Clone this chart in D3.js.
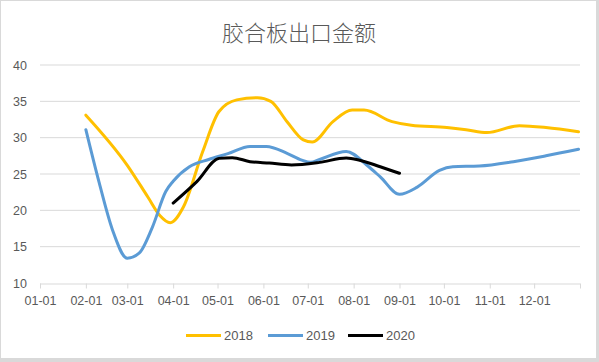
<!DOCTYPE html>
<html>
<head>
<meta charset="utf-8">
<script src="https://cdn.jsdelivr.net/npm/d3@7"></script>
<style>
  body{margin:0;background:#fff;}
  svg{display:block;}
  text{font-family:"Liberation Sans",Arial,sans-serif;fill:#595959;}
</style>
</head>
<body>
<svg id="chart" width="599" height="362"></svg>
<script>
// month tick labels and value ticks
let monthLabels=["01-01","02-01","03-01","04-01","05-01","06-01","07-01","08-01","09-01","10-01","11-01","12-01"];
let yTicks=[10,15,20,25,30,35,40];
let seriesNames=["2018","2019","2020"];
let seriesColors=["#FFC000","#5B9BD5","#000000"];

// values (MM-DD, value)
let dates2018=["02-01","03-01","03-15","03-23","03-30","04-08","04-21","05-02","05-14","05-28","06-06","06-17","06-28","07-04","07-18","07-31","08-08","08-27","09-09","10-03","10-16","10-30","11-21","12-09","12-31"];
let values2018=[33.1,26.2,21.8,19.3,18.3,20.5,28.1,33.6,35.2,35.5,35.0,32.2,29.7,29.4,32.2,33.8,33.8,32.2,31.7,31.4,31.1,30.7,31.65,31.4,30.8];

let dates2019=["02-01","02-10","02-19","03-01","03-09","03-18","03-27","04-01","04-12","04-25","05-08","05-23","06-03","06-17","06-27","07-03","07-09","07-27","08-10","08-19","09-01","09-13","09-28","10-07","10-25","11-17","12-09","12-31"];
let values2019=[31.1,23.8,17.3,13.4,14.1,17.7,22.6,24.0,26.0,27.0,27.8,28.8,28.8,27.85,26.9,26.6,27.0,28.1,26.2,24.6,22.2,23.2,25.5,26.0,26.1,26.7,27.5,28.4];

let dates2020=["04-01","04-17","05-02","05-11","05-23","06-05","06-20","07-09","07-27","08-05","08-19","09-01"];
let values2020=[21.0,23.95,27.15,27.25,26.7,26.5,26.25,26.6,27.2,26.9,26.0,25.1];

const parse=(md)=>d3.timeParse("%Y-%m-%d")("2019-"+md);
const toPoints=(dates,values)=>dates.map((d,i)=>({date:parse(d),value:values[i]}));
let series=[
  toPoints(dates2018,values2018),
  toPoints(dates2019,values2019),
  toPoints(dates2020,values2020)
];

const W=599,H=362;
const svg=d3.select("#chart");

// chart border
svg.append("rect").attr("x",0).attr("y",0).attr("width",W).attr("height",H).attr("fill","#d9d9d9");
svg.append("rect").attr("x",1).attr("y",1).attr("width",595).attr("height",357).attr("fill","#fff");

const start=parse("01-01");
const end=d3.timeParse("%Y-%m-%d")("2020-01-01");
let x=d3.scaleTime().domain([start,end]).range([40,580]);
let y=d3.scaleLinear().domain([10,40]).range([283,65]);

// title
svg.append("text")
  .attr("x",299).attr("y",41)
  .attr("text-anchor","middle")
  .style("font-family","'Noto Sans CJK SC',sans-serif")
  .style("font-size","22px")
  .style("font-weight","300")
  .text("胶合板出口金额");

// grid lines
svg.append("g")
  .selectAll("line")
  .data(yTicks.filter((v)=>v>10))
  .enter()
    .append("line")
    .attr("x1",40).attr("x2",580)
    .attr("y1",(v)=>y(v)).attr("y2",(v)=>y(v))
    .attr("stroke","#d9d9d9").attr("stroke-width",1);

// y axis labels
let yAxis=svg.append("g")
  .attr("transform","translate(40,0)")
  .call(d3.axisLeft(y).tickValues(yTicks).tickSize(0).tickPadding(13));
yAxis.select(".domain").remove();
yAxis.selectAll("text").style("font-size","12.5px").attr("fill","#595959").attr("font-family",null);

// x axis
let tickDates=d3.timeMonth.range(start,d3.timeDay.offset(end,1));
let xAxis=svg.append("g")
  .attr("transform","translate(0,283.5)")
  .call(d3.axisBottom(x)
    .tickValues(tickDates)
    .tickSize(5)
    .tickPadding(8)
    .tickFormat((d,i)=>i<monthLabels.length?monthLabels[i]:""));
xAxis.select(".domain").attr("stroke","#d9d9d9").attr("d","M40,0.5H580");
xAxis.selectAll(".tick line").attr("stroke","#d9d9d9");
xAxis.selectAll("text").style("font-size","12.5px").attr("fill","#595959").attr("font-family",null);

// lines
let line=d3.line()
  .x((p)=>x(p.date))
  .y((p)=>y(p.value))
  .curve(d3.curveMonotoneX);

svg.append("g")
  .selectAll("path")
  .data(series)
  .enter()
    .append("path")
    .attr("d",line)
    .attr("fill","none")
    .attr("stroke",(d,i)=>seriesColors[i])
    .attr("stroke-width",3)
    .attr("stroke-linejoin","round")
    .attr("stroke-linecap","round");

// legend
let legendX=[186,268,348];
let legend=svg.append("g")
  .selectAll("g")
  .data(seriesNames)
  .enter()
    .append("g")
    .attr("transform",(d,i)=>`translate(${legendX[i]},335.5)`);
legend.append("line")
  .attr("x1",0).attr("x2",35)
  .attr("y1",0).attr("y2",0)
  .attr("stroke",(d,i)=>seriesColors[i])
  .attr("stroke-width",3);
legend.append("text")
  .attr("x",38).attr("y",4.5)
  .style("font-size","13px")
  .text((d)=>d);
</script>
</body>
</html>
